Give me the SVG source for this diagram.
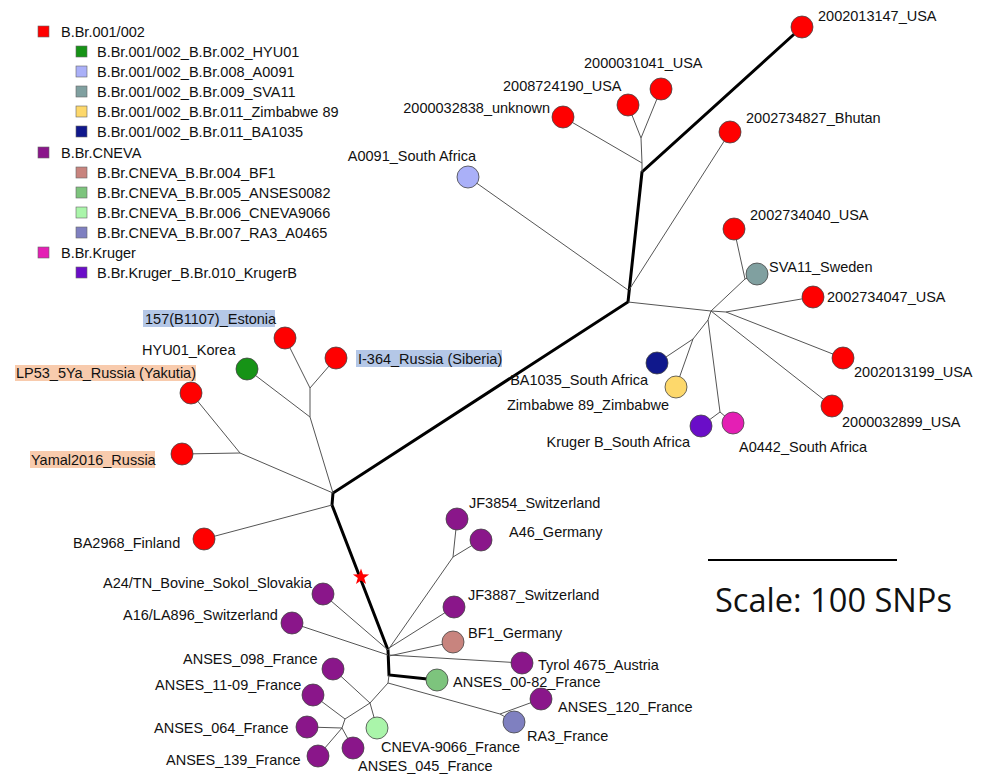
<svg xmlns="http://www.w3.org/2000/svg" width="987" height="774" viewBox="0 0 987 774">
<defs>
<style>
text{font-family:"Liberation Sans",Arial,sans-serif;font-size:14.5px;fill:#111}
.e{stroke:#555;stroke-width:1;fill:none}
.t{stroke:#000;stroke-width:3;fill:none;stroke-linejoin:miter}
circle{stroke:#444;stroke-width:0.8}
.sq{stroke:#666;stroke-width:0.6}
.red{fill:#ff0000}.pur{fill:#8a168a}
.hb{fill:#b4c7e7}.hp{fill:#f8cbad}
</style>
</defs>
<rect width="987" height="774" fill="#fff"/>
<g id="legend">
<rect class="sq" x="38" y="26" width="11" height="11" fill="#ff0000"/><text x="61" y="37">B.Br.001/002</text>
<rect class="sq" x="76" y="46" width="11" height="11" fill="#169316"/><text x="97" y="57">B.Br.001/002_B.Br.002_HYU01</text>
<rect class="sq" x="76" y="66" width="11" height="11" fill="#aab0f8"/><text x="97" y="77">B.Br.001/002_B.Br.008_A0091</text>
<rect class="sq" x="76" y="86" width="11" height="11" fill="#80a0a0"/><text x="97" y="97">B.Br.001/002_B.Br.009_SVA11</text>
<rect class="sq" x="76" y="106" width="11" height="11" fill="#fdd86b"/><text x="97" y="117">B.Br.001/002_B.Br.011_Zimbabwe 89</text>
<rect class="sq" x="76" y="126" width="11" height="11" fill="#10188c"/><text x="97" y="137">B.Br.001/002_B.Br.011_BA1035</text>
<rect class="sq" x="38" y="147" width="11" height="11" fill="#8a168a"/><text x="61" y="158">B.Br.CNEVA</text>
<rect class="sq" x="76" y="167" width="11" height="11" fill="#c8847e"/><text x="97" y="178">B.Br.CNEVA_B.Br.004_BF1</text>
<rect class="sq" x="76" y="187" width="11" height="11" fill="#7dc47d"/><text x="97" y="198">B.Br.CNEVA_B.Br.005_ANSES0082</text>
<rect class="sq" x="76" y="207" width="11" height="11" fill="#aaf5aa"/><text x="97" y="218">B.Br.CNEVA_B.Br.006_CNEVA9066</text>
<rect class="sq" x="76" y="227" width="11" height="11" fill="#7f80c0"/><text x="97" y="238">B.Br.CNEVA_B.Br.007_RA3_A0465</text>
<rect class="sq" x="38" y="247" width="11" height="11" fill="#e41fb4"/><text x="61" y="258">B.Br.Kruger</text>
<rect class="sq" x="76" y="267" width="11" height="11" fill="#6a0dc8"/><text x="97" y="278">B.Br.Kruger_B.Br.010_KrugerB</text>
</g>
<g id="connectors">
<polyline class="t" points="802,27 642,172 628,302 333,493 332,505 388,650 389,675 437,680"/>
<polyline class="e" points="642,172 642,163 641,138 628,105"/>
<line class="e" x1="641" y1="138" x2="661" y2="89"/>
<line class="e" x1="642" y1="163" x2="563" y2="117"/>
<line class="e" x1="628" y1="290" x2="468" y2="177"/>
<line class="e" x1="629" y1="290" x2="730" y2="132"/>
<line class="e" x1="628" y1="302" x2="711" y2="311"/>
<polyline class="e" points="711,311 745,279 734,229"/>
<line class="e" x1="745" y1="279" x2="757" y2="274"/>
<polyline class="e" points="711,311 726,312 813,297"/>
<line class="e" x1="726" y1="312" x2="843" y2="358"/>
<line class="e" x1="711" y1="311" x2="832" y2="406"/>
<polyline class="e" points="711,311 708,320 693,339 657,363"/>
<line class="e" x1="693" y1="339" x2="676" y2="387"/>
<polyline class="e" points="708,320 720,412 701,426"/>
<line class="e" x1="720" y1="412" x2="733" y2="423"/>
<polyline class="e" points="333,493 310,417 310,388 285,338"/>
<line class="e" x1="310" y1="388" x2="336" y2="358"/>
<line class="e" x1="310" y1="417" x2="247" y2="369"/>
<polyline class="e" points="333,493 240,453 191,393"/>
<line class="e" x1="240" y1="453" x2="182" y2="454"/>
<line class="e" x1="332" y1="505" x2="204" y2="539"/>
<line class="e" x1="388" y1="650" x2="323" y2="594"/>
<line class="e" x1="388" y1="655" x2="292" y2="623"/>
<polyline class="e" points="388,650 453,557 457,519"/>
<line class="e" x1="453" y1="557" x2="481" y2="540"/>
<line class="e" x1="389" y1="648" x2="454" y2="607"/>
<line class="e" x1="389" y1="656" x2="453" y2="642"/>
<line class="e" x1="389" y1="655" x2="522" y2="663"/>
<polyline class="e" points="389,675 388,683 500,714 514,722"/>
<line class="e" x1="500" y1="714" x2="541" y2="699"/>
<polyline class="e" points="388,683 370,703 333,669"/>
<line class="e" x1="370" y1="703" x2="377" y2="728"/>
<polyline class="e" points="370,703 345,719 313,695"/>
<polyline class="e" points="345,719 342,728 307,727"/>
<line class="e" x1="342" y1="728" x2="353" y2="748"/>
<line class="e" x1="342" y1="728" x2="318" y2="756"/>
</g>
<g id="star"><polygon points="361,568.5 363,574.3 369.1,574.4 364.2,578.1 366,583.9 361,580.4 356,583.9 357.8,578.1 352.9,574.4 359,574.3" fill="#ff0000"/></g>
<g id="n2002013147"><circle class="red" cx="802" cy="27" r="11"/><text x="818" y="21">2002013147_USA</text></g>
<g id="n2000031041"><circle class="red" cx="661" cy="89" r="11"/><text x="584" y="68">2000031041_USA</text></g>
<g id="n2008724190"><circle class="red" cx="628" cy="105" r="11"/><text x="503" y="91">2008724190_USA</text></g>
<g id="n2000032838"><circle class="red" cx="563" cy="117" r="11"/><text x="550" y="113" text-anchor="end">2000032838_unknown</text></g>
<g id="nBhutan"><circle class="red" cx="730" cy="132" r="11"/><text x="746" y="123">2002734827_Bhutan</text></g>
<g id="nA0091"><circle cx="468" cy="177" r="11" fill="#aab0f8"/><text x="476" y="161" text-anchor="end">A0091_South Africa</text></g>
<g id="n2002734040"><circle class="red" cx="734" cy="229" r="11"/><text x="750" y="220">2002734040_USA</text></g>
<g id="nSVA11"><circle cx="757" cy="274" r="11" fill="#80a0a0"/><text x="769" y="272">SVA11_Sweden</text></g>
<g id="n2002734047"><circle class="red" cx="813" cy="297" r="11"/><text x="827" y="302">2002734047_USA</text></g>
<g id="n2002013199"><circle class="red" cx="843" cy="358" r="11"/><text x="854" y="377">2002013199_USA</text></g>
<g id="n2000032899"><circle class="red" cx="832" cy="406" r="11"/><text x="842" y="427">2000032899_USA</text></g>
<g id="nBA1035"><circle cx="657" cy="363" r="11" fill="#10188c"/><text x="648" y="385" text-anchor="end">BA1035_South Africa</text></g>
<g id="nZimbabwe"><circle cx="676" cy="387" r="11" fill="#fdd86b"/><text x="669" y="410" text-anchor="end">Zimbabwe 89_Zimbabwe</text></g>
<g id="nKrugerB"><circle cx="701" cy="426" r="11" fill="#6a0dc8"/><text x="690" y="447" text-anchor="end">Kruger B_South Africa</text></g>
<g id="nA0442"><circle cx="733" cy="423" r="11" fill="#e41fb4"/><text x="739" y="452">A0442_South Africa</text></g>
<g id="nEstonia"><rect class="hb" x="143" y="310" width="132" height="17"/><text x="145" y="324">157(B1107)_Estonia</text><circle class="red" cx="285" cy="338" r="11"/></g>
<g id="nI364"><rect class="hb" x="356" y="350" width="146" height="17"/><text x="358" y="364">I-364_Russia (Siberia)</text><circle class="red" cx="336" cy="358" r="11"/></g>
<g id="nHYU01"><circle cx="247" cy="369" r="11" fill="#169316"/><text x="142" y="355">HYU01_Korea</text></g>
<g id="nLP53"><rect class="hp" x="15" y="365" width="181" height="16"/><text x="16" y="378">LP53_5Ya_Russia (Yakutia)</text><circle class="red" cx="191" cy="393" r="11"/></g>
<g id="nYamal"><rect class="hp" x="30" y="451" width="125" height="17"/><text x="31" y="465">Yamal2016_Russia</text><circle class="red" cx="182" cy="454" r="11"/></g>
<g id="nBA2968"><circle class="red" cx="204" cy="539" r="11"/><text x="73" y="548">BA2968_Finland</text></g>
<g id="nJF3854"><circle class="pur" cx="457" cy="519" r="11"/><text x="469" y="508">JF3854_Switzerland</text></g>
<g id="nA46"><circle class="pur" cx="481" cy="540" r="11"/><text x="509" y="537">A46_Germany</text></g>
<g id="nA24"><circle class="pur" cx="323" cy="594" r="11"/><text x="103" y="588">A24/TN_Bovine_Sokol_Slovakia</text></g>
<g id="nA16"><circle class="pur" cx="292" cy="623" r="11"/><text x="123" y="620">A16/LA896_Switzerland</text></g>
<g id="nJF3887"><circle class="pur" cx="454" cy="607" r="11"/><text x="468" y="600">JF3887_Switzerland</text></g>
<g id="nBF1"><circle cx="453" cy="642" r="11" fill="#c8847e"/><text x="468" y="638">BF1_Germany</text></g>
<g id="nTyrol"><circle class="pur" cx="522" cy="663" r="11"/><text x="538" y="670">Tyrol 4675_Austria</text></g>
<g id="nANSES0082"><circle cx="437" cy="680" r="11" fill="#7dc47d"/><text x="453" y="687">ANSES_00-82_France</text></g>
<g id="nANSES120"><circle class="pur" cx="541" cy="699" r="11"/><text x="558" y="712">ANSES_120_France</text></g>
<g id="nRA3"><circle cx="514" cy="722" r="11" fill="#7f80c0"/><text x="527" y="741">RA3_France</text></g>
<g id="nANSES098"><circle class="pur" cx="333" cy="669" r="11"/><text x="183" y="664">ANSES_098_France</text></g>
<g id="nANSES1109"><circle class="pur" cx="313" cy="695" r="11"/><text x="155" y="690">ANSES_11-09_France</text></g>
<g id="nANSES064"><circle class="pur" cx="307" cy="727" r="11"/><text x="154" y="733">ANSES_064_France</text></g>
<g id="nANSES139"><circle class="pur" cx="318" cy="756" r="11"/><text x="166" y="765">ANSES_139_France</text></g>
<g id="nANSES045"><circle class="pur" cx="353" cy="748" r="11"/><text x="358" y="771">ANSES_045_France</text></g>
<g id="nCNEVA9066"><circle cx="377" cy="728" r="11" fill="#aaf5aa"/><text x="381" y="752">CNEVA-9066_France</text></g>
<g id="scale">
<line x1="708" y1="560" x2="897" y2="560" stroke="#000" stroke-width="2"/>
<text x="715" y="612" style="font-family:'Open Sans','Noto Sans',sans-serif;font-size:33px" textLength="237" lengthAdjust="spacingAndGlyphs">Scale: 100 SNPs</text>
</g>
</svg>
